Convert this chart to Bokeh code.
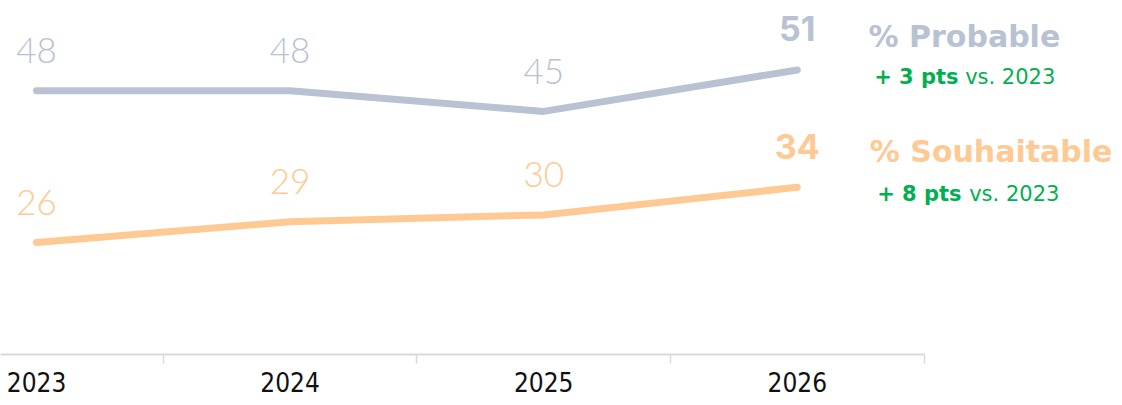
from bokeh.plotting import figure
from bokeh.models import Range1d, FixedTicker, Label, ColumnDataSource
from bokeh.core.properties import value
from bokeh.embed import file_html
from bokeh.resources import INLINE

years = ["2023", "2024", "2025", "2026"]
probable = [48, 48, 45, 51]
souhaitable = [26, 29, 30, 34]
series_names = ["% Probable", "% Souhaitable"]
deltas = ["+ 3 pts", "+ 8 pts"]
delta_suffix = "vs. 2023"

GRAY = "#b8c2d2"
ORANGE = "#ffc994"
GREEN = "#00b050"

xs = list(range(len(years)))

p = figure(width=1114, height=397, output_backend="svg", toolbar_location=None,
           x_range=Range1d(-0.142, 4.251), y_range=Range1d(9.77, 61.07),
           min_border_left=0, min_border_right=0, min_border_top=0, min_border_bottom=43)
p.outline_line_color = None
p.xgrid.visible = False
p.ygrid.visible = False
p.yaxis.visible = False
p.background_fill_color = None
p.border_fill_color = "white"

ax = p.xaxis[0]
ax.bounds = (-0.142, 3.5)
ax.ticker = FixedTicker(ticks=xs, minor_ticks=[i + 0.5 for i in xs])
ax.major_label_overrides = {i: y for i, y in enumerate(years)}
ax.major_tick_line_color = None
ax.major_tick_in = 0
ax.major_tick_out = 0
ax.minor_tick_in = 0
ax.minor_tick_out = 9
ax.minor_tick_line_color = "#d9d9d9"
ax.minor_tick_line_width = 1.5
ax.axis_line_color = "#d9d9d9"
ax.axis_line_width = 2
ax.major_label_text_font = "'Liberation Sans Narrow', 'DejaVu Sans Condensed', sans-serif"
ax.major_label_text_font_size = "26px"
ax.major_label_text_color = "#111111"
ax.major_label_standoff = 8

for vals, col in [(probable, GRAY), (souhaitable, ORANGE)]:
    p.line(xs, vals, line_color=col, line_width=7, line_cap="round", line_join="round")
    src = ColumnDataSource(dict(x=xs[:-1], y=vals[:-1], t=[str(v) for v in vals[:-1]]))
    p.text(x="x", y="y", text="t", source=src, text_align="center", text_baseline="alphabetic",
           y_offset=-40, text_color=col, text_font=value("'Lato Light', Lato"),
           text_font_size="35px")
    last = ColumnDataSource(dict(x=xs[-1:], y=vals[-1:], t=[str(vals[-1])]))
    p.text(x="x", y="y", text="t", source=last, text_align="center", text_baseline="alphabetic",
           y_offset=-41, text_color=col, text_font=value("Inter"), text_font_style="bold",
           text_font_size="34px")

# legend-like annotations at right
name_pos = [(3.281, 55.86), (3.286, 39.19)]
delta_pos = [(50.04, 3.636, 3.662), (33.09, 3.648, 3.678)]
for name, (lx, ly), col in zip(series_names, name_pos, [GRAY, ORANGE]):
    p.add_layout(Label(x=lx, y=ly, text=name, text_color=col, text_font="DejaVu Sans",
                       text_font_style="bold", text_font_size="30px",
                       text_align="left", text_baseline="alphabetic"))
for d, (ly, xr, xl) in zip(deltas, delta_pos):
    p.add_layout(Label(x=xr, y=ly, text=d, text_color=GREEN, text_font="DejaVu Sans",
                       text_font_style="bold", text_font_size="21px",
                       text_align="right", text_baseline="alphabetic"))
    p.add_layout(Label(x=xl, y=ly, text=delta_suffix, text_color=GREEN, text_font="DejaVu Sans",
                       text_font_size="21px",
                       text_align="left", text_baseline="alphabetic"))

open("out.html", "w").write(file_html(p, INLINE))
